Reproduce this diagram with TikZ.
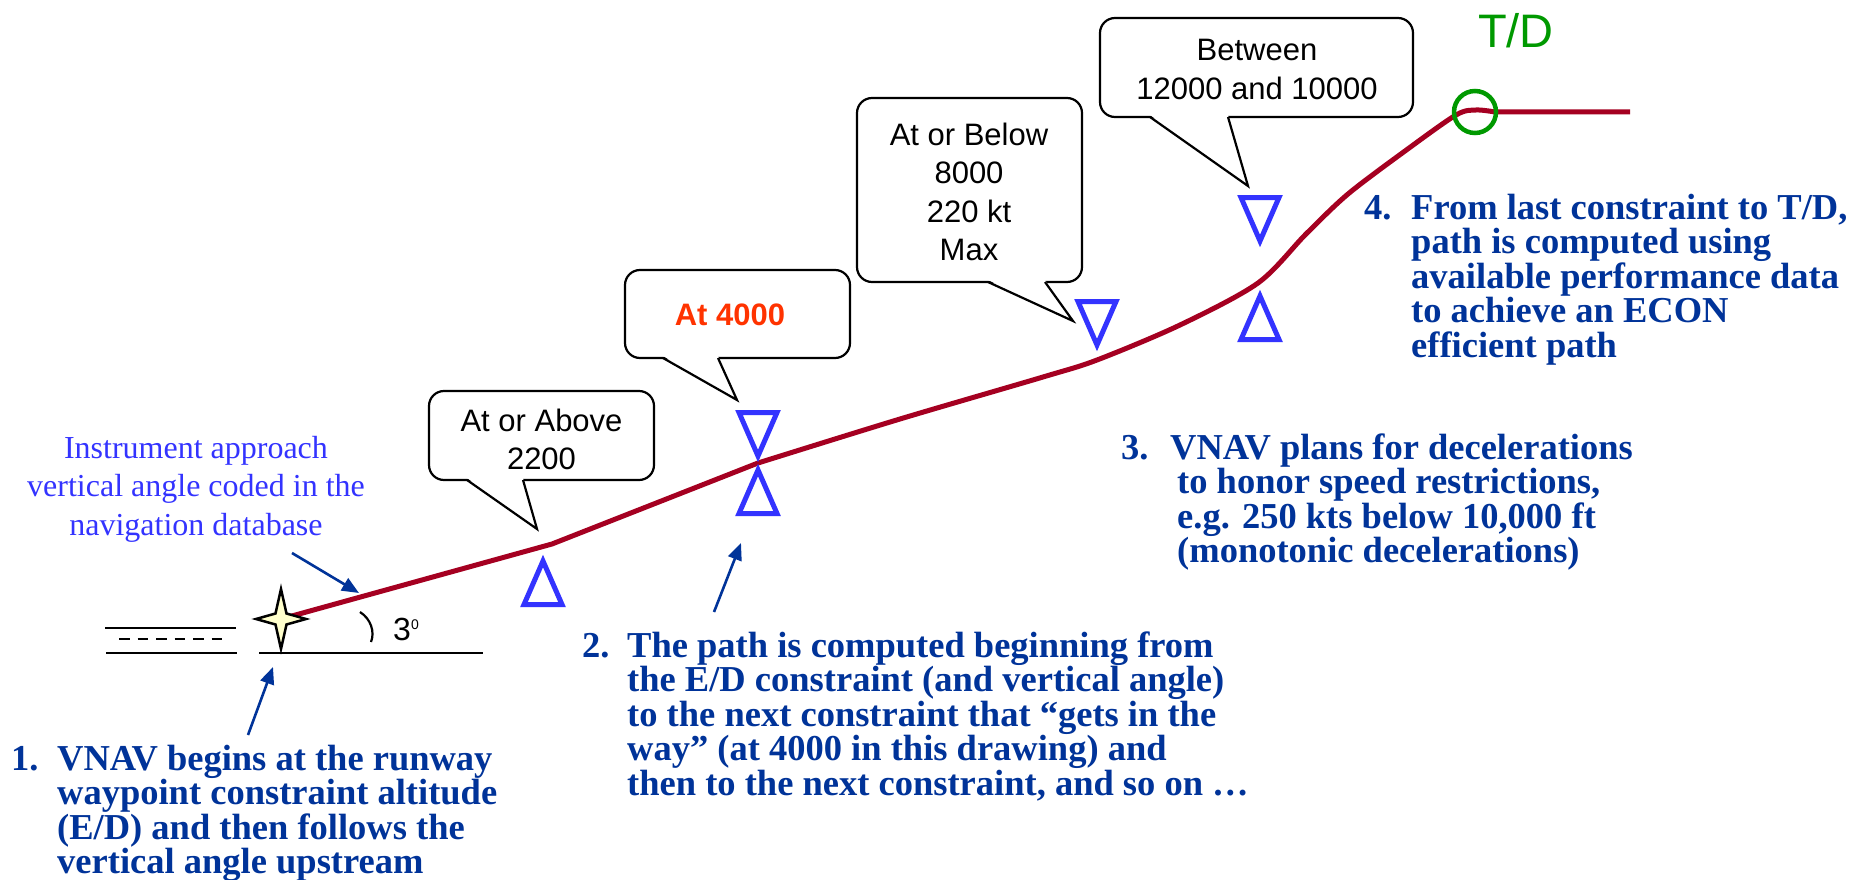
\documentclass[tikz,border=0pt]{standalone}
\usepackage{fontspec}
\setmainfont{Liberation Serif}
\newfontfamily\arial{Liberation Sans}
\usetikzlibrary{arrows.meta}
\definecolor{pathred}{HTML}{A50021}
\definecolor{triblue}{HTML}{3333FF}
\definecolor{navy}{HTML}{003399}
\definecolor{atred}{HTML}{FF3300}
\definecolor{tdgreen}{HTML}{009900}
\definecolor{starfill}{HTML}{FFFFCC}
\tikzset{
  redpath/.style={pathred, line width=5pt, line join=round},
  tri/.style={triblue, line width=5pt, line join=miter},
  downtri/.pic={\draw[tri] (-19,2.5) -- (19,2.5) -- (0,46) -- cycle;},
  uptri/.pic={\draw[tri] (-19,-2.5) -- (19,-2.5) -- (0,-46) -- cycle;},
  callbox/.style={draw=black, line width=2.2pt, fill=white, rounded corners=15pt, inner sep=0pt},
  tailfill/.style={fill=white},
  tailline/.style={draw=black, line width=2.2pt, line join=miter},
  calltxt/.style={font=\arial\fontsize{31}{38.5}\selectfont, align=center, anchor=base, inner sep=0pt},
  bluebold/.style={navy, font=\fontsize{36.5}{34.5}\selectfont\bfseries, align=left, anchor=base west, inner sep=0pt},
  ptr/.style={navy, line width=2.6pt, -{Triangle[length=17pt,width=14pt]}},
  blackline/.style={black, line width=2.3pt},
}
\begin{document}
\begin{tikzpicture}[x=1pt,y=-1pt]
\fill[white] (0,0) rectangle (1866,880);
\useasboundingbox (0,0) rectangle (1866,880);

% runway and ground
\draw[blackline] (105,628) -- (236,628);
\draw[blackline] (106,653) -- (237,653);
\draw[blackline, dash pattern=on 10.5pt off 8pt] (119,639) -- (223,639);
\draw[blackline] (259,653) -- (483,653);

% vertical path
\coordinate (ed) at (281,619);
\coordinate (k1) at (552,544);
\coordinate (h4) at (758,463);
\draw[redpath] (ed) -- (k1) -- (h4) -- plot[smooth, tension=0.5] coordinates {(758,463) (900,419) (1043,377) (1097,360) (1180,325) (1258,283) (1306,234) (1348,194) (1405,151) (1456,115) (1476,110) (1495,112)} -- (1630,112);

% angle
\draw[black, line width=2.2pt] (360,612) .. controls (371,619) and (375,632) .. (371,642);
\node[font=\arial\fontsize{32}{32}\selectfont, anchor=base west, inner sep=0pt] (ang) at (393,640) {3\raisebox{11pt}{\fontsize{14}{14}\selectfont 0}};

% star
\draw[black, line width=2.5pt, fill=starfill, line join=miter] (281,589) -- (286.5,613.5) -- (306,619) -- (286.5,624.5) -- (281,649) -- (275.5,624.5) -- (256,619) -- (275.5,613.5) -- cycle;

% constraint markers
\pic at (543,607) {uptri};
\pic at (758,410) {downtri};
\pic at (758,516) {uptri};
\pic at (1097,299) {downtri};
\pic at (1260,195) {downtri};
\pic at (1260,342) {uptri};

% T/D
\node[circle, draw=tdgreen, line width=4.5pt, minimum size=42pt, inner sep=0pt] (tdc) at (1475,112) {};
\node[font=\arial\fontsize{47}{47}\selectfont, text=tdgreen, anchor=base, inner sep=0pt] (td) at (1516,48) {T/D};

% callout 1
\node[callbox, minimum width=225pt, minimum height=89pt] (c1) at (541.5,435.5) {};
\coordinate (c1tip) at (537,529);
\fill[tailfill] (467,478) -- (523,478) -- (c1tip) -- cycle;
\draw[tailline] (467,480) -- (c1tip) -- (523,480);
\node[calltxt] (t1) at (541.5,469.5) {At or Above\\2200};

% callout 2
\node[callbox, minimum width=225pt, minimum height=88pt] (c2) at (737.5,314) {};
\coordinate (c2tip) at (737,400);
\fill[tailfill] (663,356) -- (718,356) -- (c2tip) -- cycle;
\draw[tailline] (663,358) -- (c2tip) -- (718,358);
\node[calltxt, font=\arial\bfseries\fontsize{31}{38.5}\selectfont, text=atred] (t2) at (730,325) {At 4000};

% callout 3
\node[callbox, minimum width=225pt, minimum height=184pt] (c3) at (969.5,190) {};
\coordinate (c3tip) at (1073,321);
\fill[tailfill] (988,280) -- (1045,280) -- (c3tip) -- cycle;
\draw[tailline] (988,282) -- (c3tip) -- (1045,282);
\node[calltxt] (t3) at (969,260.5) {At or Below\\8000\\220 kt\\Max};

% callout 4
\node[callbox, minimum width=313pt, minimum height=99pt] (c4) at (1256.5,67.5) {};
\coordinate (c4tip) at (1248,186);
\fill[tailfill] (1150,115) -- (1228,115) -- (c4tip) -- cycle;
\draw[tailline] (1150,117) -- (c4tip) -- (1228,117);
\node[calltxt] (t4) at (1257,99.5) {Between\\12000 and 10000};

% instrument note
\node[text=triblue, font=\fontsize{32}{38.5}\selectfont, align=center, anchor=base, inner sep=0pt] (ins) at (196,535) {Instrument approach\\vertical angle coded in the\\navigation database};
\coordinate (insA) at (292,553);
\coordinate (insB) at (359,593);
\draw[ptr] (insA) -- (insB);

% numbered notes
\node[bluebold] (n1) at (11,770) {1.};
\node[bluebold] (b1) at (57,873.5) {VNAV begins at the runway\\waypoint constraint altitude\\(E/D) and then follows the\\vertical angle upstream};
\coordinate (a1s) at (248,735);
\coordinate (a1e) at (273,667);
\draw[ptr] (a1s) -- (a1e);

\node[bluebold] (n2) at (582,657) {2.};
\node[bluebold] (b2) at (627,795) {The path is computed beginning from\\the E/D constraint (and vertical angle)\\to the next constraint that “gets in the\\way” (at 4000 in this drawing) and\\then to the next constraint, and so on …};
\coordinate (a2s) at (714,612);
\coordinate (a2e) at (741,543);
\draw[ptr] (a2s) -- (a2e);

\node[bluebold] (n3) at (1121,459) {3.};
\node[bluebold] (b3) at (1170,562.5) {VNAV plans for decelerations\\\hspace*{7pt}to honor speed restrictions,\\\hspace*{7pt}e.g. 250 kts below 10,000 ft\\\hspace*{7pt}(monotonic decelerations)};

\node[bluebold] (n4) at (1364,219) {4.};
\node[bluebold] (b4) at (1411,357) {From last constraint to T/D,\\path is computed using\\available performance data\\to achieve an ECON\\efficient path};
\end{tikzpicture}
\end{document}
